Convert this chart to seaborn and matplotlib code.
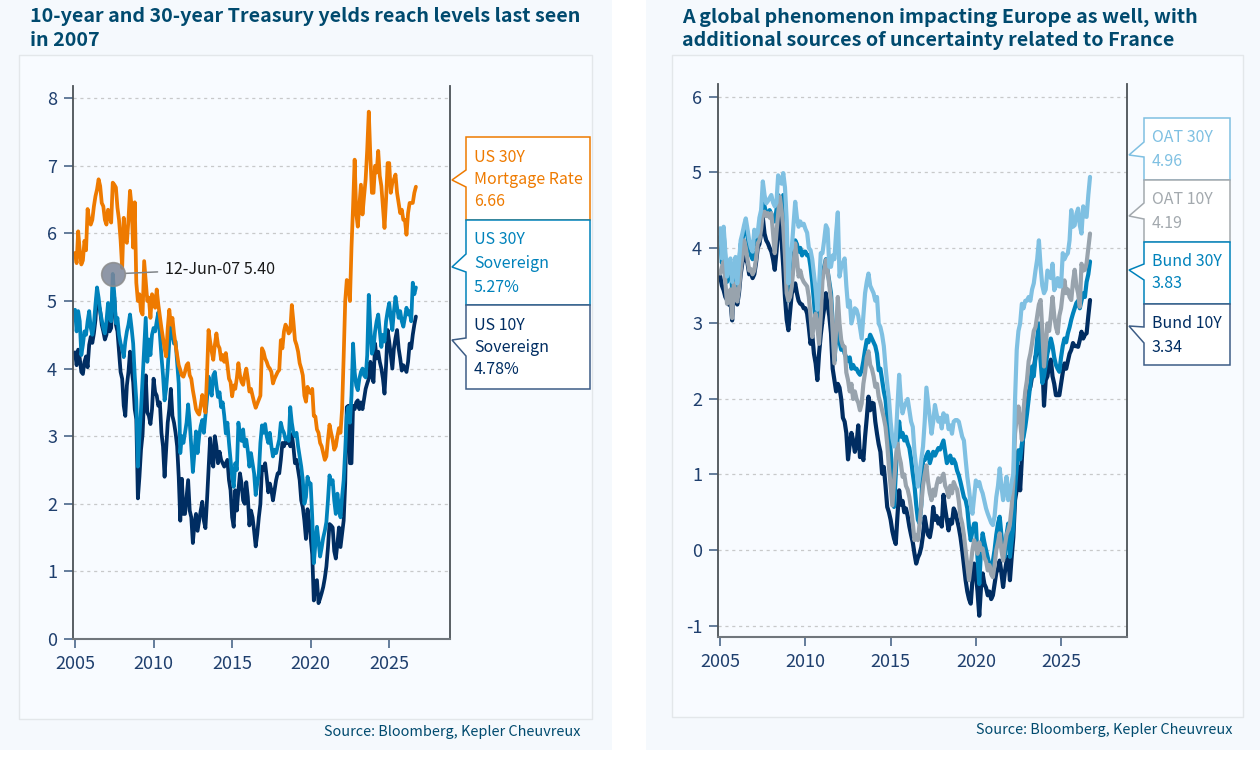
# -*- coding: utf-8 -*-
import matplotlib
matplotlib.use('Agg')
import matplotlib.pyplot as plt
import seaborn as sns
from matplotlib.patches import Polygon, Rectangle

# one reading every 0.1 year, one row per year
dates = [2005 + i / 10 for i in range(218)]

mortgage = [5.71, 5.56, 6.03, 5.75, 5.54, 5.6, 5.89, 5.75, 6.36, 6.2,
            6.13, 6.2, 6.4, 6.55, 6.65, 6.8, 6.7, 6.45, 6.4, 6.2,
            6.13, 6.35, 6.25, 6.16, 6.75, 6.72, 6.68, 6.38, 6.2, 5.9,
            5.49, 6.23, 5.9, 5.86, 6.2, 6.63, 6.4, 5.79, 6.46, 5.27,
            5.0, 5.1, 4.85, 4.8, 5.59, 5.3, 5.0, 5.05, 4.75, 5.1,
            5.05, 4.9, 5.17, 4.95, 4.77, 4.6, 4.45, 4.3, 4.18, 4.6,
            4.87, 4.65, 4.75, 4.52, 4.35, 4.2, 4.05, 3.98, 3.9, 3.88,
            3.95, 4.05, 4.08, 3.9, 3.85, 3.68, 3.55, 3.4, 3.35, 3.32,
            3.45, 3.61, 3.5, 3.35, 3.9, 4.57, 4.4, 4.25, 4.13, 4.35,
            4.52, 4.35, 4.3, 4.13, 4.2, 4.1, 4.23, 4.05, 3.85, 3.8,
            3.59, 3.75, 3.7, 3.86, 4.08, 3.9, 3.8, 3.76, 3.9, 4.0,
            3.85, 3.66, 3.7, 3.6, 3.5, 3.42, 3.48, 3.54, 3.6, 4.3,
            4.25, 4.15, 4.1, 4.03, 4.0, 3.95, 3.78, 3.85, 3.9, 3.95,
            3.98, 4.42, 4.3, 4.55, 4.65, 4.6, 4.52, 4.55, 4.94, 4.7,
            4.42, 4.35, 4.25, 4.08, 4.0, 3.9, 3.6, 3.51, 3.73, 3.65,
            3.64, 3.7, 3.3, 3.29, 3.1, 3.05, 2.9, 2.85, 2.75, 2.65,
            2.7, 2.95, 3.17, 3.05, 2.95, 2.8, 2.85, 3.0, 3.12, 3.05,
            3.4, 4.17, 5.0, 5.31, 5.28, 5.0, 5.8, 6.4, 7.09, 6.3,
            6.1, 6.4, 6.72, 6.28, 6.55, 6.8, 7.24, 7.8, 7.14, 6.6,
            6.6, 7.0, 6.9, 7.22, 6.85, 6.7, 6.4, 6.08, 6.5, 7.04,
            7.04, 6.6, 6.75, 6.8, 6.87, 6.6, 6.45, 6.3, 6.35, 6.2,
            6.2, 5.98, 6.3, 6.45, 6.45, 6.45, 6.6, 6.69]

us30y = [4.87, 4.55, 4.85, 4.7, 4.2, 4.35, 4.55, 4.5, 4.7, 4.85,
         4.6, 4.5, 4.65, 4.95, 5.2, 5.05, 4.85, 4.72, 4.6, 4.52,
         4.7, 4.97, 4.75, 4.7, 5.4, 5.1, 4.67, 4.75, 4.5, 4.37,
         4.3, 4.17, 4.4, 4.55, 4.65, 4.8, 4.6, 4.37, 3.9, 3.53,
         2.55, 3.0, 3.4, 3.85, 4.3, 4.75, 4.1, 4.43, 4.2, 4.5,
         4.6, 4.55, 4.7, 4.83, 4.5, 4.18, 3.9, 3.53, 3.7, 4.0,
         4.4, 4.67, 4.5, 4.37, 4.4, 4.1, 3.78, 2.75, 3.0, 2.9,
         3.05, 3.2, 3.47, 3.2, 2.85, 2.47, 2.75, 3.07, 2.75, 3.0,
         3.15, 3.24, 3.05, 3.3, 3.55, 3.88, 3.7, 3.6, 3.9, 3.95,
         3.75, 3.58, 3.65, 3.43, 3.5, 3.3, 3.04, 3.2, 2.9, 2.65,
         2.4, 2.25, 2.6, 2.5, 3.2, 3.0, 2.93, 3.1, 2.85, 2.95,
         2.78, 2.55, 2.75, 2.6, 2.45, 2.13, 2.3, 2.45, 2.9, 3.16,
         3.05, 3.18, 3.0, 2.9, 3.05, 2.85, 2.7, 2.8, 2.75, 2.85,
         2.95, 3.2, 3.1, 3.05, 2.95, 2.98, 2.93, 3.43, 3.2, 3.05,
         3.0, 3.05, 2.85, 2.7, 2.55, 2.35, 2.0, 2.1, 2.4, 2.3,
         2.3, 1.8, 1.12, 1.4, 1.66, 1.45, 1.22, 1.35, 1.5, 1.6,
         1.73, 2.05, 2.42, 2.3, 2.35, 2.05, 1.85, 2.15, 1.95, 1.8,
         2.1, 2.35, 2.8, 3.3, 3.43, 3.2, 3.6, 4.37, 3.95, 3.75,
         3.68, 3.85, 3.95, 4.0, 3.9, 3.87, 4.2, 5.09, 4.6, 4.22,
         4.3, 4.55, 4.7, 4.8, 4.55, 4.32, 4.5, 4.4, 4.7, 4.85,
         4.97, 4.75, 4.57, 4.85, 5.06, 4.9, 4.75, 4.85, 4.7, 4.62,
         4.75, 4.9, 4.8, 4.85, 4.7, 5.27, 5.1, 5.2]

us10y = [4.24, 4.05, 4.28, 4.15, 3.95, 3.92, 4.1, 4.18, 4.02, 4.35,
         4.47, 4.38, 4.52, 4.72, 5.1, 4.95, 4.85, 4.65, 4.55, 4.43,
         4.5, 4.7, 4.55, 4.6, 5.2, 5.05, 4.65, 4.55, 4.25, 3.95,
         3.85, 3.45, 3.3, 3.75, 3.95, 4.25, 4.0, 3.8, 3.4, 3.25,
         2.08, 2.4, 2.8, 3.03, 3.6, 3.9, 3.35, 3.3, 3.18, 3.4,
         3.85, 3.65, 3.6, 3.45, 3.5, 3.05, 2.85, 2.4, 2.8, 3.2,
         3.4, 3.7, 3.3, 3.2, 3.05, 2.85, 2.4, 1.75, 2.37, 1.85,
         1.85, 2.1, 2.35, 1.9, 1.8, 1.42, 1.7, 1.85, 1.6, 1.75,
         1.9, 2.03, 1.75, 1.64, 2.05, 2.5, 2.97, 2.65, 2.55, 3.0,
         2.85, 2.6, 2.77, 2.65, 2.6, 2.55, 2.6, 2.65, 2.35, 2.2,
         1.8, 1.66, 2.2, 1.9, 2.2, 2.45, 2.3, 2.05, 2.0, 2.32,
         2.1, 1.68, 1.9, 1.8, 1.6, 1.37, 1.55, 1.8, 2.0, 2.55,
         2.5, 2.6, 2.4, 2.17, 2.3, 2.2, 2.05, 2.2, 2.35, 2.45,
         2.45, 2.65, 2.9, 2.85, 2.92, 2.9, 2.92, 2.85, 3.03, 2.85,
         2.6, 2.65, 2.5, 2.35, 2.05, 1.95, 1.75, 1.48, 1.92, 1.75,
         1.5, 1.25, 0.57, 0.85, 0.87, 0.53, 0.6, 0.68, 0.77, 0.9,
         1.07, 1.35, 1.7, 1.68, 1.65, 1.3, 1.19, 1.4, 1.65, 1.36,
         1.55, 1.75, 2.3, 3.43, 3.45, 2.6, 2.6, 3.45, 3.4, 3.5,
         3.53, 3.4, 3.5, 3.4, 3.55, 3.7, 3.78, 3.85, 4.1, 3.9,
         3.8, 4.37, 4.15, 4.25, 4.1, 4.0, 3.85, 3.63, 4.05, 4.57,
         4.4, 4.2, 4.0, 4.3, 4.45, 4.57, 4.3, 4.15, 3.97, 4.05,
         4.0, 3.95, 4.1, 4.37, 4.3, 4.5, 4.65, 4.77]

oat30 = [4.26, 3.86, 4.28, 3.95, 3.62, 3.75, 3.86, 3.55, 3.7, 3.88,
         3.53, 3.8, 4.1, 4.19, 4.3, 4.39, 4.25, 4.1, 4.0, 3.95,
         4.24, 4.15, 4.2, 4.4, 4.5, 4.88, 4.7, 4.59, 4.62, 4.66,
         4.7, 4.6, 4.55, 4.6, 4.96, 4.9, 4.85, 4.99, 4.8, 4.37,
         3.53, 3.95, 4.0, 4.3, 4.61, 4.4, 4.28, 4.35, 4.3, 4.32,
         4.25, 4.2, 4.0, 3.97, 3.85, 3.65, 3.45, 3.18, 3.5, 3.93,
         3.93, 4.1, 4.3, 4.25, 3.75, 3.75, 3.9, 3.85, 4.2, 4.47,
         3.62, 3.75, 3.8, 3.86, 3.5, 3.22, 3.3, 3.0, 3.1, 3.2,
         3.18, 3.1, 2.95, 2.8, 3.1, 3.4, 3.55, 3.66, 3.5, 3.45,
         3.4, 3.3, 3.35, 3.0, 2.95, 2.85, 2.7, 2.43, 2.2, 2.0,
         1.7, 1.48, 1.37, 1.45, 1.9, 2.32, 2.0, 1.81, 1.9, 1.95,
         2.0, 1.85, 1.7, 1.63, 1.3, 1.1, 0.84, 1.0, 1.2, 1.37,
         1.7, 2.15, 1.95, 1.75, 1.54, 1.7, 1.92, 1.8, 1.7, 1.75,
         1.61, 1.81, 1.7, 1.78, 1.6, 1.65, 1.54, 1.7, 1.72, 1.72,
         1.7, 1.6, 1.5, 1.45, 1.2, 0.97, 0.8, 0.6, 0.48, 0.7,
         0.92, 0.85, 0.9, 0.81, 0.75, 0.65, 0.55, 0.48, 0.42, 0.36,
         0.33, 0.45, 0.7, 0.85, 1.08, 0.85, 0.66, 0.8, 0.97, 0.66,
         0.75, 0.9, 1.01, 1.99, 2.65, 2.9, 3.0, 3.26, 3.2, 3.3,
         3.3, 3.35, 3.3, 3.45, 3.53, 3.7, 3.85, 4.1, 3.75, 3.5,
         3.4, 3.45, 3.7, 3.65, 3.6, 3.79, 3.44, 3.5, 3.6, 3.49,
         3.49, 3.93, 3.85, 3.9, 3.93, 4.1, 4.5, 4.28, 4.3, 4.45,
         4.52, 4.3, 4.19, 4.55, 4.42, 4.41, 4.7, 4.94]

oat10 = [3.66, 3.75, 3.82, 3.55, 3.26, 3.3, 3.45, 3.07, 3.53, 3.4,
         3.29, 3.45, 3.7, 3.88, 4.1, 4.0, 3.85, 3.7, 3.72, 3.65,
         3.7, 3.85, 4.06, 4.1, 4.25, 4.46, 4.48, 4.42, 4.46, 4.4,
         4.46, 4.2, 3.93, 4.2, 4.45, 4.68, 4.5, 4.28, 3.9, 3.4,
         3.3, 3.35, 3.49, 3.75, 4.06, 3.85, 3.62, 3.7, 3.6, 3.55,
         3.52, 3.49, 3.35, 3.1, 2.82, 3.0, 3.13, 2.95, 2.73, 3.1,
         3.57, 3.7, 3.84, 3.7, 3.5, 3.31, 2.9, 2.47, 2.9, 3.35,
         3.0, 2.78, 2.7, 2.69, 2.35, 2.25, 2.1, 2.2, 2.0, 2.1,
         2.0, 1.95, 1.85, 1.94, 2.2, 2.35, 2.55, 2.63, 2.45, 2.4,
         2.3, 2.16, 2.2, 2.03, 1.95, 1.85, 1.75, 1.63, 1.4, 1.1,
         0.85, 0.59, 0.9, 1.2, 1.41, 1.25, 1.15, 0.97, 1.0, 0.85,
         0.8, 0.7, 0.55, 0.35, 0.13, 0.2, 0.13, 0.35, 0.6, 0.85,
         1.0, 1.12, 0.9, 0.75, 0.66, 0.8, 0.72, 0.86, 0.95, 0.9,
         0.95, 1.01, 0.85, 0.8, 0.7, 0.85, 0.75, 0.9, 0.84, 0.8,
         0.65, 0.44, 0.35, 0.2, 0.0, -0.2, -0.4, -0.2, 0.0, 0.13,
         0.05, -0.05, 0.1, 0.0, 0.02, -0.1, -0.15, -0.27, -0.2, -0.32,
         -0.36, -0.2, 0.0, 0.1, 0.22, 0.0, -0.14, 0.05, 0.2, 0.26,
         0.35, 0.57, 0.9, 1.54, 1.75, 1.9, 1.7, 1.46, 1.85, 2.1,
         2.25, 2.5, 2.6, 2.74, 2.9, 2.95, 3.1, 3.25, 3.31, 2.9,
         2.43, 2.7, 3.0, 2.9, 3.1, 3.35, 3.1, 2.95, 2.87, 3.1,
         3.2, 3.4, 3.57, 3.4, 3.45, 3.35, 3.31, 3.55, 3.71, 3.5,
         3.4, 3.22, 3.79, 3.7, 3.71, 3.8, 4.0, 4.19]

bund30 = [4.15, 3.8, 4.2, 3.85, 3.55, 3.7, 3.8, 3.45, 3.6, 3.8,
          3.5, 3.75, 4.05, 4.1, 4.25, 4.3, 4.15, 4.0, 3.9, 3.85,
          4.15, 4.05, 4.1, 4.3, 4.4, 4.65, 4.55, 4.45, 4.45, 4.5,
          4.45, 4.4, 4.35, 4.5, 4.7, 4.65, 4.55, 4.7, 4.45, 4.0,
          3.3, 3.4, 3.6, 3.85, 4.1, 4.05, 3.95, 4.0, 3.9, 3.95,
          3.95, 3.9, 3.9, 3.75, 3.55, 3.3, 3.0, 3.1, 3.4, 3.6,
          3.7, 3.75, 3.85, 3.7, 3.55, 3.4, 3.0, 2.5, 2.8, 2.9,
          2.75, 2.65, 2.7, 2.6, 2.55, 2.5, 2.55, 2.4, 2.45, 2.4,
          2.4, 2.35, 2.32, 2.38, 2.5, 2.65, 2.78, 2.75, 2.85, 2.8,
          2.75, 2.7, 2.6, 2.38, 2.4, 2.25, 2.1, 1.99, 1.75, 1.55,
          1.32, 1.0, 0.57, 1.0, 1.45, 1.7, 1.5, 1.55, 1.45, 1.5,
          1.41, 1.35, 1.2, 1.01, 0.85, 0.6, 0.4, 0.35, 0.6, 1.19,
          1.19, 1.25, 1.3, 1.15, 1.23, 1.3, 1.25, 1.3, 1.35, 1.33,
          1.39, 1.45, 1.3, 1.15, 1.2, 1.25, 1.15, 1.2, 1.15, 1.05,
          0.99, 0.9, 0.8, 0.7, 0.66, 0.55, 0.3, 0.13, 0.25, 0.35,
          0.35, -0.1, -0.45, 0.0, 0.22, 0.1, 0.0, -0.1, -0.2, -0.23,
          -0.15, 0.0, 0.2, 0.35, 0.44, 0.2, 0.0, -0.09, 0.2, 0.35,
          -0.09, 0.1, 0.3, 0.8, 1.1, 1.32, 1.2, 1.4, 1.5, 1.63,
          1.8, 2.0, 2.2, 2.43, 2.3, 2.55, 2.8, 3.0, 2.5, 2.21,
          2.3, 2.45, 2.6, 2.7, 2.8, 2.7, 2.55, 2.45, 2.4, 2.36,
          2.55, 2.7, 2.8, 2.75, 2.87, 2.95, 3.05, 3.13, 3.2, 3.27,
          3.3, 3.2, 3.3, 3.4, 3.35, 3.55, 3.65, 3.82]

bund10 = [3.62, 3.5, 3.44, 3.35, 3.31, 3.25, 3.3, 3.04, 3.5, 3.35,
          3.25, 3.4, 3.65, 3.8, 3.95, 3.85, 3.8, 3.65, 3.68, 3.6,
          3.65, 3.8, 4.0, 4.05, 4.2, 4.4, 4.19, 4.1, 4.06, 4.0,
          3.95, 3.85, 3.71, 3.95, 4.25, 4.46, 4.1, 3.75, 3.35, 3.05,
          2.91, 3.15, 3.4, 3.45, 3.53, 3.4, 3.3, 3.26, 3.25, 3.2,
          3.2, 3.13, 2.95, 2.73, 2.85, 2.6, 2.47, 2.25, 2.6, 2.85,
          3.04, 3.2, 3.4, 3.25, 3.1, 2.87, 2.4, 2.25, 2.1, 2.2,
          2.15, 2.0, 1.75, 1.7, 1.55, 1.2, 1.4, 1.55, 1.45, 1.3,
          1.4, 1.65, 1.23, 1.3, 1.19, 1.5, 1.75, 2.03, 1.85, 1.95,
          1.94, 1.7, 1.54, 1.4, 1.3, 1.01, 1.1, 0.85, 0.57, 0.5,
          0.4, 0.25, 0.15, 0.08, 0.45, 0.79, 0.6, 0.65, 0.5, 0.55,
          0.45, 0.31, 0.2, 0.1, -0.05, -0.18, -0.1, -0.05, 0.04, 0.2,
          0.44, 0.3, 0.2, 0.17, 0.3, 0.57, 0.4, 0.45, 0.35, 0.42,
          0.31, 0.73, 0.55, 0.4, 0.26, 0.4, 0.35, 0.55, 0.5, 0.4,
          0.3, 0.17, 0.0, -0.2, -0.4, -0.55, -0.65, -0.71, -0.4, -0.18,
          -0.3, -0.55, -0.87, -0.5, -0.31, -0.45, -0.5, -0.6, -0.55, -0.65,
          -0.6, -0.45, -0.3, -0.25, -0.14, -0.3, -0.49, -0.3, -0.15, -0.09,
          -0.4, -0.1, 0.17, 0.66, 0.8, 1.1, 0.79, 1.2, 1.63, 1.85,
          2.07, 2.1, 2.16, 2.3, 2.4, 2.56, 2.6, 2.8, 2.92, 2.5,
          1.91, 2.25, 2.3, 2.45, 2.52, 2.3, 2.2, 2.05, 2.05, 2.05,
          2.2, 2.35, 2.47, 2.4, 2.5, 2.6, 2.65, 2.74, 2.7, 2.7,
          2.69, 2.78, 2.89, 2.8, 2.85, 2.87, 3.1, 3.31]

year_ticks = [2005, 2010, 2015, 2020, 2025]
left_ticks = [0, 1, 2, 3, 4, 5, 6, 7, 8]
right_ticks = [-1, 0, 1, 2, 3, 4, 5, 6]

ORANGE = '#ee7a00'
BLUE = '#0082bb'
NAVY = '#002d62'
LIGHT = '#7fc0e2'
GREY = '#98a3ad'
TITLE = '#004a6e'
TICKS = '#1f3f6e'
W, H = 1260, 761

sns.set_theme(style='white')
plt.rcParams['font.family'] = ['Noto Sans CJK SC', 'DejaVu Sans']
plt.rcParams['axes.unicode_minus'] = False
fig = plt.figure(figsize=(W / 100, H / 100), dpi=100, facecolor='white')

# background in pixel coordinates, panels and callouts go here
bg = fig.add_axes([0, 0, 1, 1], zorder=0)
bg.set_xlim(0, W)
bg.set_ylim(H, 0)
bg.axis('off')


def panel(x0, x1, ix0, ix1, iy1):
    bg.add_patch(Rectangle((x0, 0), x1 - x0, 750, fc='#f5f9fd', ec='none'))
    bg.add_patch(Rectangle((ix0, 55), ix1 - ix0, iy1 - 55, fc='#f8fbff', ec='#e3e7ea', lw=1))


def callout(x0, x1, y0, y1, tip, b0, b1, color, lines, ys, edge=None):
    pts = [(x0, y0), (x1, y0), (x1, y1), (x0, y1), (x0, b1), tip, (x0, b0)]
    bg.add_patch(Polygon(pts, closed=True, fc='white', ec=edge or color, lw=1.1))
    for s, yy in zip(lines, ys):
        bg.text(x0 + 8, yy, s, color=color, fontsize=11.5, va='center', ha='left')


def make_axes(left, right, top, bottom, ylim, yticks):
    ax = fig.add_axes([left / W, 1 - bottom / H, (right - left) / W, (bottom - top) / H], zorder=1)
    ax.set_facecolor('none')
    ax.set_xlim(2004.87, 2028.87)
    ax.set_ylim(*ylim)
    ax.set_xticks(year_ticks)
    ax.set_yticks(yticks)
    ax.grid(axis='y', color='#c8c9ca', ls=(0, (2.5, 3)), lw=0.9)
    ax.set_axisbelow(True)
    ax.spines['top'].set_visible(False)
    for side in ['left', 'right']:
        ax.spines[side].set_color('#4c5257')
        ax.spines[side].set_linewidth(1.3)
    ax.spines['bottom'].set_color('#70767c')
    ax.spines['bottom'].set_linewidth(1.5)
    ax.tick_params(axis='both', colors='#3c5a80', labelcolor=TICKS, labelsize=13, length=6.5, width=1.1, pad=5,
                   left=True, bottom=True)
    return ax


def draw(ax, y, color, lw):
    sns.lineplot(x=dates, y=y, ax=ax, color=color, linewidth=lw, estimator=None, legend=False)
    ax.set_xlabel('')
    ax.set_ylabel('')


panel(0, 612, 19, 592, 719)
panel(646, 1260, 672, 1243, 717)

# left chart
ax1 = make_axes(73, 450, 86, 639, (0, 8.18), left_ticks)
draw(ax1, us10y, NAVY, 2.7)
draw(ax1, us30y, BLUE, 2.7)
draw(ax1, mortgage, ORANGE, 2.7)
ax1.scatter([2007.44], [5.40], s=290, color='#7d8698', edgecolor='#8c8c8c', linewidth=1.2, alpha=0.85, zorder=5)
ax1.annotate('12-Jun-07 5.40', xy=(2007.44, 5.40), xytext=(165, 269), textcoords=bg.transData,
             color='#1a1a1a', fontsize=11.6, va='center', ha='left',
             arrowprops=dict(arrowstyle='-', color='#808488', lw=1.1, shrinkA=3, shrinkB=9))

# right chart
ax2 = make_axes(718, 1127, 84, 637, (-1.152, 6.17), right_ticks)
draw(ax2, bund10, NAVY, 3.0)
draw(ax2, bund30, BLUE, 3.0)
draw(ax2, oat10, GREY, 3.0)
draw(ax2, oat30, LIGHT, 3.0)

# callouts
callout(466, 590, 137, 220, (452, 180), 170, 187, ORANGE, ['US 30Y', 'Mortgage Rate', '6.66'], [157, 179, 202])
callout(466, 590, 220, 305, (452, 267), 254, 272, BLUE, ['US 30Y', 'Sovereign', '5.27%'], [240, 263, 287])
callout(466, 590, 305, 389, (452, 340), 338, 356, NAVY, ['US 10Y', 'Sovereign', '4.78%'], [325, 347, 370], edge='#3d5d86')
callout(1144, 1230, 118, 180, (1129, 155), 142, 157, LIGHT, ['OAT 30Y', '4.96'], [138, 162])
callout(1144, 1230, 180, 242, (1129, 216), 203, 219, '#a3a9ae', ['OAT 10Y', '4.19'], [200, 223])
callout(1144, 1230, 242, 304, (1129, 270), 264, 280, BLUE, ['Bund 30Y', '3.83'], [262, 284])
callout(1144, 1230, 304, 365, (1129, 326), 327, 343, NAVY, ['Bund 10Y', '3.34'], [323, 347], edge='#3d5d86')

# titles and sources
for x, lines in [(30, ['10-year and 30-year Treasury yelds reach levels last seen', 'in 2007']),
                 (682, ['A global phenomenon impacting Europe as well, with',
                        'additional sources of uncertainty related to France'])]:
    for s, yy in zip(lines, [17, 40]):
        bg.text(x, yy, s, color=TITLE, fontsize=14.2, fontweight='bold', va='center', ha='left')
bg.text(580, 732, 'Source: Bloomberg, Kepler Cheuvreux', color=TITLE, fontsize=10.4, va='center', ha='right')
bg.text(1232, 730, 'Source: Bloomberg, Kepler Cheuvreux', color=TITLE, fontsize=10.4, va='center', ha='right')

plt.savefig('out.png', dpi=100)
